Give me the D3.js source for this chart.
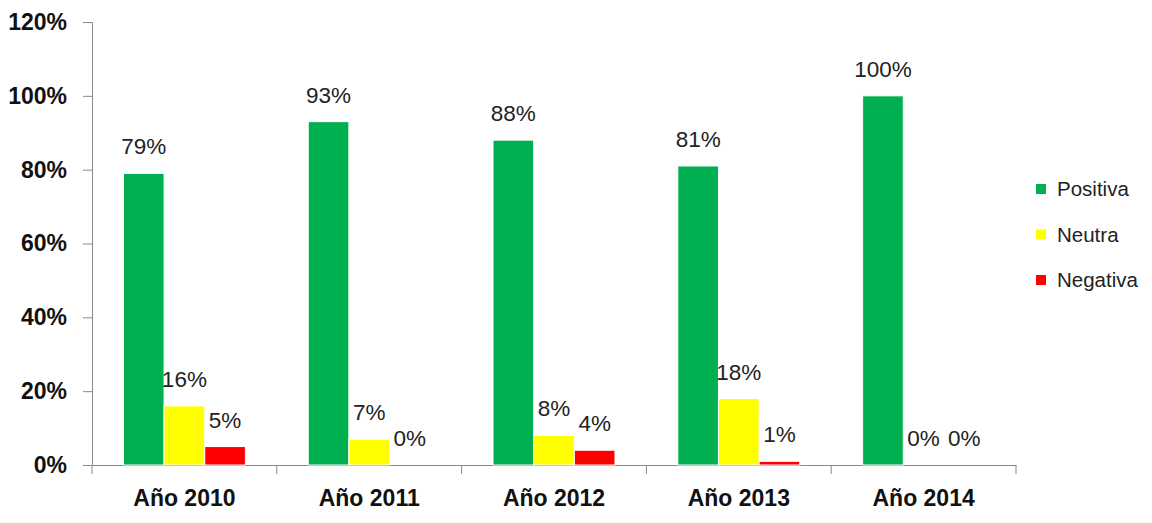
<!DOCTYPE html>
<html>
<head>
<meta charset="utf-8">
<script src="https://cdn.jsdelivr.net/npm/d3@7"></script>
<style>
  body { margin: 0; background: #fff; }
  text { font-family: "Liberation Sans", "Open Sans", sans-serif; }
</style>
</head>
<body>
<svg id="chart"></svg>
<script>
const years = ["Año 2010", "Año 2011", "Año 2012", "Año 2013", "Año 2014"];
const series = ["Positiva", "Neutra", "Negativa"];
const positiva = [0.79, 0.93, 0.88, 0.81, 1.00];
const neutra = [0.16, 0.07, 0.08, 0.18, 0.00];
const negativa = [0.05, 0.00, 0.04, 0.01, 0.00];
const colors = ["#00b050", "#ffff00", "#ff0000"];
const y_ticks = [0, 0.2, 0.4, 0.6, 0.8, 1.0, 1.2];

const width = 1152, height = 523;
const margin = {top: 22, left: 92, right: 136, bottom: 58};

const svg = d3.select("#chart")
    .attr("width", width)
    .attr("height", height);

const x = d3.scaleBand()
    .domain(years)
    .range([margin.left, width - margin.right]);

const x_inner = d3.scaleBand()
    .domain(series)
    .range([0, x.bandwidth() * 0.66])
    .padding(0);

const y = d3.scaleLinear()
    .domain([0, 1.2])
    .range([height - margin.bottom, margin.top]);

// build rows from the arrays
const rows = years.map((yr, i) => ({
    year: yr,
    values: [positiva[i], neutra[i], negativa[i]]
}));

// axes
const y_axis = svg.append("g")
    .attr("transform", `translate(${margin.left},0)`)
    .call(d3.axisLeft(y).tickValues(y_ticks).tickFormat(d3.format(".0%")).tickSizeOuter(0).tickSize(9).tickPadding(16));
y_axis.select(".domain").attr("stroke", "#898989");
y_axis.selectAll(".tick line").attr("stroke", "#898989");
y_axis.selectAll("text")
    .attr("font-size", "23px")
    .attr("font-weight", "bold")
    .attr("fill", "#111");

const x_axis = svg.append("g")
    .attr("transform", `translate(0,${y(0)})`)
    .call(d3.axisBottom(x).tickSize(0).tickPadding(25));
x_axis.select(".domain").attr("stroke", "#898989");
x_axis.selectAll("text")
    .attr("font-size", "23px")
    .attr("font-weight", "bold")
    .attr("fill", "#111");

// category separator ticks
svg.append("g")
    .selectAll("line")
    .data(years.concat(["end"]))
    .enter().append("line")
    .attr("x1", (d, i) => margin.left + i * x.step())
    .attr("x2", (d, i) => margin.left + i * x.step())
    .attr("y1", y(0))
    .attr("y2", y(0) + 9)
    .attr("stroke", "#898989");

// bars
const group = svg.append("g")
    .selectAll("g")
    .data(rows)
    .enter().append("g")
    .attr("transform", d => `translate(${x(d.year) + x.bandwidth() * 0.17},0)`);

group.selectAll("rect")
    .data(d => d.values.map((v, k) => ({key: series[k], value: v, color: colors[k]})))
    .enter().append("rect")
    .attr("x", d => x_inner(d.key))
    .attr("width", x_inner.bandwidth())
    .attr("y", d => y(d.value))
    .attr("height", d => y(0) - y(d.value))
    .attr("fill", d => d.color)
    .attr("stroke", "#fff")
    .attr("stroke-width", 1);

group.selectAll("text")
    .data(d => d.values.map((v, k) => ({key: series[k], value: v})))
    .enter().append("text")
    .attr("x", d => x_inner(d.key) + x_inner.bandwidth() / 2)
    .attr("y", d => y(d.value) - 19)
    .attr("text-anchor", "middle")
    .attr("font-size", "22.5px")
    .attr("fill", "#222")
    .text(d => d3.format(".0%")(d.value));

// legend
const legend = svg.append("g")
    .selectAll("g")
    .data(series)
    .enter().append("g")
    .attr("transform", (d, i) => `translate(1036,${189 + i * 45.5})`);

legend.append("rect")
    .attr("x", 0)
    .attr("y", -5)
    .attr("width", 10)
    .attr("height", 10)
    .attr("fill", (d, i) => colors[i]);

legend.append("text")
    .attr("x", 21)
    .attr("y", 0)
    .attr("dy", "0.35em")
    .attr("font-size", "20.5px")
    .attr("fill", "#222")
    .text(d => d);
</script>
</body>
</html>
